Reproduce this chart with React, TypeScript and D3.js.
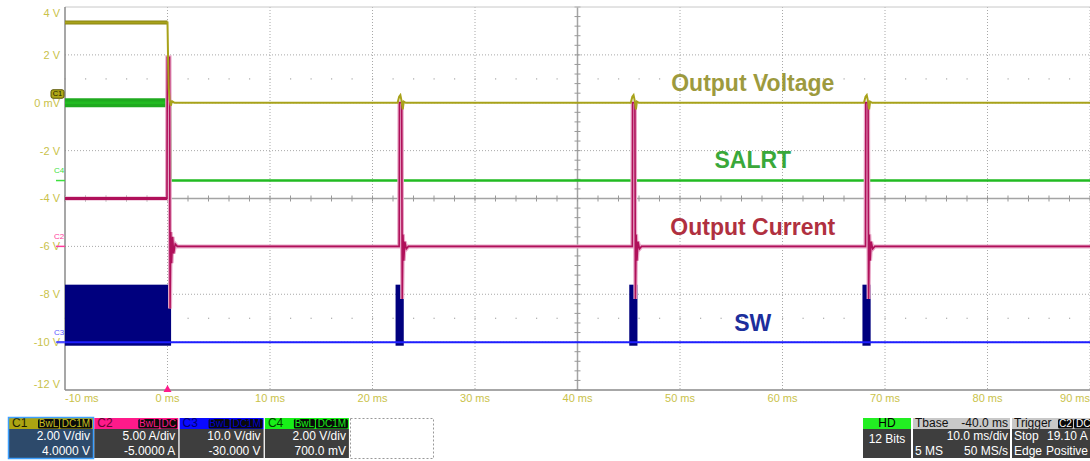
import React from 'react';
import * as d3 from 'd3';

// screen grid: 10 ms/div horizontally, 2 V/div (C1 scale) vertically
const timeTicks = [-10, 0, 10, 20, 30, 40, 50, 60, 70, 80, 90];
const voltTicks = [4, 2, 0, -2, -4, -6, -8, -10, -12];
const voltTickLabels = ['4 V', '2 V', '0 mV', '-2 V', '-4 V', '-6 V', '-8 V', '-10 V', '-12 V'];

// traces, [time ms, displayed volts]
const outputVoltage: [number, number][] = [
  [-10, 3.35], [0.0, 3.35], [0.05, 2.0], [0.12, 0.6], [0.2, 0.15], [0.32, -0.12], [0.45, 0.06], [0.7, 0],
  [22.45, 0], [22.6, 0.25], [22.72, 0.32], [22.85, 0.05], [22.95, -0.28], [23.05, 0.05], [23.25, 0],
  [45.2, 0], [45.35, 0.25], [45.47, 0.32], [45.6, 0.05], [45.7, -0.28], [45.8, 0.05], [46.0, 0],
  [67.95, 0], [68.1, 0.25], [68.22, 0.32], [68.35, 0.05], [68.45, -0.28], [68.55, 0.05], [68.75, 0],
  [90, 0],
];
const salrt: [number, number][] = [
  [-10, 0], [0.25, 0], [0.3, -3.25], [90, -3.25],
];
const outputCurrent: [number, number][] = [
  [-10, -4.0], [-0.05, -4.0], [-0.02, 1.9], [0.2, 1.9], [0.25, -8.6], [0.32, -5.4], [0.4, -6.7], [0.5, -5.6],
  [0.6, -6.3], [0.75, -5.9], [0.95, -6.0],
  [22.6, -6.0], [22.63, 0.0], [22.85, 0.0], [22.9, -8.2], [22.97, -5.5], [23.05, -6.6], [23.15, -5.8], [23.3, -6.1], [23.5, -6.0],
  [45.35, -6.0], [45.38, 0.0], [45.6, 0.0], [45.65, -8.2], [45.72, -5.5], [45.8, -6.6], [45.9, -5.8], [46.05, -6.1], [46.25, -6.0],
  [68.1, -6.0], [68.13, 0.0], [68.35, 0.0], [68.4, -8.2], [68.47, -5.5], [68.55, -6.6], [68.65, -5.8], [68.8, -6.1], [69.0, -6.0],
  [90, -6.0],
];
const swBaseline: [number, number][] = [[-10.8, -10.0], [90, -10.0]];
const swBursts: [number, number][] = [[-10, 0.35], [22.25, 23.05], [45.05, 45.85], [67.8, 68.6]];
const swBurstHigh = -7.6;
const swBurstLow = -10.15;

const traceLabels = [
  { text: 'Output Voltage', t: 57.1, v: 0.75, color: '#9d9a3e' },
  { text: 'SALRT', t: 57.1, v: -2.48, color: '#3aa83a' },
  { text: 'Output Current', t: 57.1, v: -5.28, color: '#b03040' },
  { text: 'SW', t: 57.1, v: -9.28, color: '#1c2e9c' },
];

const channelMarkers = [
  { name: 'C4', v: -3.25, color: '#3ee03e' },
  { name: 'C2', v: -6.0, color: '#ff3c9c' },
  { name: 'C3', v: -10.0, color: '#5a5aff' },
];

const channelBoxes = [
  { name: 'C1', badges: ['BwL', 'DC1M'], perDiv: '2.00 V/div', offset: '4.0000 V' },
  { name: 'C2', badges: ['BwL', 'DC'], perDiv: '5.00 A/div', offset: '-5.0000 A' },
  { name: 'C3', badges: ['BwL', 'DC1M'], perDiv: '10.0 V/div', offset: '-30.000 V' },
  { name: 'C4', badges: ['BwL', 'DC1M'], perDiv: '2.00 V/div', offset: '700.0 mV' },
];
const badgeWidths: Record<string, number> = { BwL: 21, DC1M: 32, DC: 17 };
const boxColors: Record<string, { head: string; text: string; badge: string }> = {
  C1: { head: '#aca412', text: '#1e1e00', badge: '#c8c020' },
  C2: { head: '#ff1a8a', text: '#6a0030', badge: '#ff1a8a' },
  C3: { head: '#0a0aff', text: '#000070', badge: '#0000c8' },
  C4: { head: '#18f018', text: '#004000', badge: '#18f018' },
};

const W = 1090;
const H = 461;
const FONT = 'Arial, "Liberation Sans", sans-serif';
const AXIS_COL = '#c9c24a';

export default function App() {
  const x = d3.scaleLinear().domain([-10, 90]).range([65, 1090]);
  const y = d3.scaleLinear().domain([-12, 4]).range([390, 7]);
  const line = d3.line<[number, number]>().x(d => x(d[0])).y(d => y(d[1]));

  const minorT = d3.range(-10, 90.01, 2);
  const minorV = d3.range(-12, 4.01, 0.4);
  const boxW = 84;

  return (
    <svg width={W} height={H} style={{ position: 'absolute', left: 0, top: 0, display: 'block', background: '#fff' }}
      fontFamily={FONT}>
      <rect x={0} y={0} width={W} height={H} fill="#fff" />

      {/* dotted grid */}
      {timeTicks.filter(t => t !== -10 && t !== 40).map(t => (
        <line key={'gx' + t} x1={x(t)} x2={x(t)} y1={y(4)} y2={y(-12)} stroke="#a8a8a8" strokeDasharray="1,2" />
      ))}
      {voltTicks.filter(v => v !== -4 && v !== -12 && v !== 4).map(v => (
        <line key={'gy' + v} x1={x(-10)} x2={W} y1={y(v)} y2={y(v)} stroke="#a8a8a8" strokeDasharray="1,2" />
      ))}
      {[1, -9].map(v => minorT.map(t => (
        <rect key={'d' + v + '_' + t} x={x(t) - 0.5} y={y(v) - 0.5} width={1.2} height={1.2} fill="#aaa" />
      )))}
      {/* center axes with ticks */}
      <line x1={x(-10)} x2={W} y1={y(-4)} y2={y(-4)} stroke="#a4a4a4" strokeWidth={1.5} />
      <line x1={x(40)} x2={x(40)} y1={y(4)} y2={y(-12)} stroke="#a4a4a4" strokeWidth={1.5} />
      {minorT.map(t => (
        <line key={'tx' + t} x1={x(t)} x2={x(t)} y1={y(-4) - 3} y2={y(-4) + 3} stroke="#999" />
      ))}
      {minorV.map(v => (
        <line key={'ty' + v} x1={x(40) - 3} x2={x(40) + 3} y1={y(v)} y2={y(v)} stroke="#999" />
      ))}
      {/* frame */}
      <line x1={x(-10)} x2={W} y1={y(4)} y2={y(4)} stroke="#c8c8c8" />
      <line x1={x(-10)} x2={x(-10)} y1={y(4)} y2={y(-12)} stroke="#8a8a8a" strokeWidth={1.5} />
      <line x1={x(-10)} x2={W} y1={y(-12)} y2={y(-12)} stroke="#8a8a8a" strokeWidth={1.5} />

      {/* axis labels */}
      {voltTicks.map((v, i) => (
        <text key={'vl' + v} x={60} y={Math.max(14, Math.min(385, y(v) + 1))} dominantBaseline="middle"
          textAnchor="end" fontSize={11} fill={AXIS_COL}>{voltTickLabels[i]}</text>
      ))}
      {timeTicks.map(t => {
        const label = `${t} ms`;
        const anchor = t === -10 ? 'start' : t === 90 ? 'end' : 'middle';
        const px = t === -10 ? x(t) : t === 90 ? W : x(t);
        return (
          <text key={'tl' + t} x={px} y={399} dominantBaseline="middle" textAnchor={anchor}
            fontSize={11} fill={AXIS_COL}>{label}</text>
        );
      })}

      {/* SW */}
      {swBursts.map(([a, b]) => (
        <rect key={'sw' + a} x={x(a)} y={y(swBurstHigh)} width={x(b) - x(a)} height={y(swBurstLow) - y(swBurstHigh)}
          fill="#00007e" />
      ))}
      <path d={line(swBaseline) || ''} fill="none" stroke="#1e1eff" strokeWidth={2} />

      {/* SALRT */}
      <path d={line(salrt.slice(0, 2)) || ''} fill="none" stroke="#1faa1f" strokeWidth={9} />
      <path d={line(salrt) || ''} fill="none" stroke="#22bb22" strokeWidth={2.5} />

      {/* Output current (persistence halo + trace) */}
      <path d={line(outputCurrent) || ''} fill="none" stroke="#e8a9c8" strokeWidth={4} />
      <path d={line(outputCurrent) || ''} fill="none" stroke="#b0105a" strokeWidth={1.6} />
      <path d={line(outputCurrent.slice(0, 2)) || ''} fill="none" stroke="#b0105a" strokeWidth={3} />

      {/* Output voltage */}
      <path d={line(outputVoltage.slice(0, 2)) || ''} fill="none" stroke="#8a8410" strokeWidth={4} />
      <path d={line(outputVoltage) || ''} fill="none" stroke="#a8a21a" strokeWidth={2} />

      {/* trace annotations */}
      {traceLabels.map(l => (
        <text key={l.text} x={x(l.t)} y={y(l.v)} textAnchor="middle" dominantBaseline="middle"
          fontSize={23} fontWeight="bold" fill={l.color}>{l.text}</text>
      ))}

      {/* channel markers */}
      <rect x={51} y={y(0) - 13} width={13} height={8.5} rx={2} fill="#b0a818" stroke="#5a5400" />
      <text x={57.5} y={y(0) - 8.6} textAnchor="middle" dominantBaseline="middle" fontSize={7.5} fill="#1a1a00">C1</text>
      {channelMarkers.map(m => (
        <g key={m.name}>
          <text x={59} y={y(m.v) - 9.5} textAnchor="middle" dominantBaseline="middle" fontSize={8} fill={m.color}>{m.name}</text>
          <line x1={56} x2={65} y1={y(m.v)} y2={y(m.v)} stroke={m.color} strokeWidth={1.5} />
        </g>
      ))}
      {/* trigger marker */}
      <path d={`M${x(0)},${y(-12) - 5} L${x(0) - 4},${y(-12) + 2} L${x(0) + 4},${y(-12) + 2} Z`} fill="#ff1a8a" />

      {/* channel descriptor boxes */}
      {channelBoxes.map((c, i) => {
        const bx = 9 + i * 85.3;
        const col = boxColors[c.name];
        let badgeRight = bx + boxW - 1;
        const badges = c.badges.slice().reverse().map(b => {
          const w = badgeWidths[b];
          badgeRight -= w + 1;
          return { b, bxL: badgeRight + 1, w };
        });
        return (
          <g key={c.name}>
            <rect x={bx} y={418} width={boxW} height={11} fill={col.head} />
            <text x={bx + 3} y={424} dominantBaseline="middle" fontSize={12} fill={col.text}>{c.name}</text>
            {badges.map(bd => (
              <g key={bd.b}>
                <rect x={bd.bxL} y={419} width={bd.w} height={9.5} rx={1.5} fill="#0a0a0a" />
                <text x={bd.bxL + bd.w / 2} y={424} textAnchor="middle" dominantBaseline="middle" fontSize={10}
                  fill={col.badge}>{bd.b}</text>
              </g>
            ))}
            <rect x={bx} y={429} width={boxW} height={29} fill={i === 0 ? '#2d4a6b' : '#3e3e3e'} />
            {i === 0 && (
              <rect x={bx - 0.5} y={417.5} width={boxW + 1} height={41} fill="none" stroke="#3ea0ff" strokeWidth={1.5} />
            )}
            <text x={bx + boxW - 3} y={437} textAnchor="end" dominantBaseline="middle" fontSize={12} fill="#fff">{c.perDiv}</text>
            <text x={bx + boxW - 3} y={452} textAnchor="end" dominantBaseline="middle" fontSize={12} fill="#fff">{c.offset}</text>
          </g>
        );
      })}
      <rect x={350.5} y={418.5} width={83} height={40} fill="none" stroke="#999" strokeDasharray="2,2" />

      {/* HD box */}
      <rect x={863} y={418} width={48} height={11} fill="#22ee22" />
      <text x={887} y={424} textAnchor="middle" dominantBaseline="middle" fontSize={12} fill="#000">HD</text>
      <rect x={863} y={429} width={48} height={29} fill="#3e3e3e" />
      <text x={887} y={440} textAnchor="middle" dominantBaseline="middle" fontSize={12} fill="#fff">12 Bits</text>

      {/* Timebase box */}
      <rect x={913} y={418} width={97} height={11} fill="#c8c8c8" />
      <text x={915} y={424} dominantBaseline="middle" fontSize={12} fill="#111">Tbase</text>
      <text x={1008} y={424} textAnchor="end" dominantBaseline="middle" fontSize={12} fill="#111">-40.0 ms</text>
      <rect x={913} y={429} width={97} height={29} fill="#3e3e3e" />
      <text x={1008} y={437} textAnchor="end" dominantBaseline="middle" fontSize={12} fill="#fff">10.0 ms/div</text>
      <text x={915} y={452} dominantBaseline="middle" fontSize={12} fill="#fff">5 MS</text>
      <text x={1008} y={452} textAnchor="end" dominantBaseline="middle" fontSize={12} fill="#fff">50 MS/s</text>

      {/* Trigger box */}
      <rect x={1012} y={418} width={80} height={11} fill="#c8c8c8" />
      <text x={1014} y={424} dominantBaseline="middle" fontSize={12} fill="#111">Trigger</text>
      <rect x={1058} y={419} width={15} height={9.5} rx={1.5} fill="#0a0a0a" />
      <text x={1065.5} y={424} textAnchor="middle" dominantBaseline="middle" fontSize={10} fill="#fff">C2</text>
      <rect x={1074} y={419} width={20} height={9.5} rx={1.5} fill="#0a0a0a" />
      <text x={1076} y={424} dominantBaseline="middle" fontSize={10} fill="#fff">DC</text>
      <rect x={1012} y={429} width={80} height={29} fill="#3e3e3e" />
      <text x={1014} y={437} dominantBaseline="middle" fontSize={12} fill="#fff">Stop</text>
      <text x={1047} y={437} dominantBaseline="middle" fontSize={12} fill="#fff">19.10 A</text>
      <text x={1014} y={452} dominantBaseline="middle" fontSize={12} fill="#fff">Edge</text>
      <text x={1046} y={452} dominantBaseline="middle" fontSize={12} fill="#fff">Positive</text>
    </svg>
  );
}
